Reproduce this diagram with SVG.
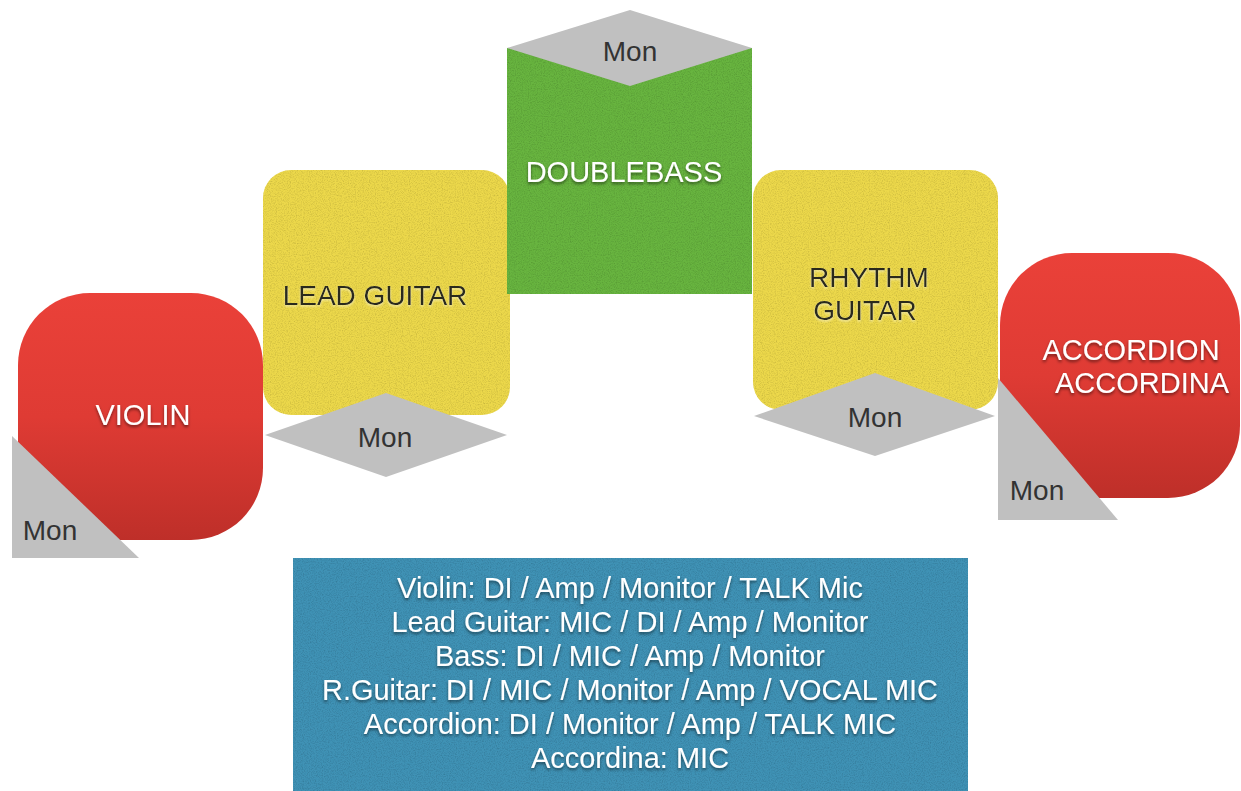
<svg xmlns="http://www.w3.org/2000/svg" width="1241" height="791" viewBox="0 0 1241 791">
<defs>
<linearGradient id="red" x1="0" y1="0" x2="0" y2="1">
<stop offset="0" stop-color="#ea4139"/>
<stop offset="0.5" stop-color="#df3b34"/>
<stop offset="1" stop-color="#be2f29"/>
</linearGradient>
<filter id="grain" x="0" y="0" width="100%" height="100%">
<feTurbulence type="fractalNoise" baseFrequency="0.85" numOctaves="2" seed="5" result="noise"/>
<feColorMatrix in="noise" type="matrix" values="0 0 0 0 0  0 0 0 0 0  0 0 0 0 0  0 0 0 0.6 -0.25" result="dark"/>
<feComposite in="dark" in2="SourceGraphic" operator="in" result="d2"/>
<feMerge><feMergeNode in="SourceGraphic"/><feMergeNode in="d2"/></feMerge>
</filter>
<filter id="shadow" x="-10%" y="-30%" width="120%" height="160%">
<feDropShadow dx="0" dy="2" stdDeviation="1.5" flood-color="#000" flood-opacity="0.5"/>
</filter>
<filter id="lightshadow" x="-10%" y="-30%" width="120%" height="160%">
<feDropShadow dx="0" dy="1.5" stdDeviation="1" flood-color="#fff" flood-opacity="0.5"/>
</filter>
</defs>
<style>
text { font-family: "Liberation Sans", Arial, sans-serif; text-anchor: middle; }
.white { fill: #ffffff; font-size: 29px; filter: url(#shadow); }
.dark { fill: #2b2a1c; font-size: 28px; filter: url(#lightshadow); }
.mon { fill: #333333; font-size: 28px; }
.grey { fill: #c0c0c0; }
.yellow { fill: #ecd84c; filter: url(#grain); }
.green { fill: #68b441; filter: url(#grain); }
.blue { fill: #3f92b5; filter: url(#grain); }
.red { fill: url(#red); }
</style>
<rect width="1241" height="791" fill="#ffffff"/>

<g id="violin">
<rect class="red" x="18" y="293" width="245" height="247" rx="72" ry="72"/>
<text class="white" x="143" y="425">VIOLIN</text>
<polygon class="grey" points="12,436 12,558 139,558"/>
<text class="mon" x="50" y="540">Mon</text>
</g>

<g id="lead-guitar">
<rect class="yellow" x="263" y="170" width="247" height="245" rx="28" ry="28"/>
<text class="dark" x="375" y="305">LEAD GUITAR</text>
<polygon class="grey" points="265,435 386,393 507,435 386,477"/>
<text class="mon" x="385" y="447">Mon</text>
</g>

<g id="doublebass">
<rect class="green" x="507" y="48" width="245" height="246"/>
<polygon class="grey" points="507,48 630,10 752,48 630,86"/>
<text class="mon" x="630" y="61">Mon</text>
<text class="white" x="624" y="182">DOUBLEBASS</text>
</g>

<g id="rhythm-guitar">
<rect class="yellow" x="753" y="170" width="245" height="240" rx="28" ry="28"/>
<text class="dark" x="869" y="287">RHYTHM</text>
<text class="dark" x="865" y="320">GUITAR</text>
<polygon class="grey" points="754,416 875,373 995,416 875,456"/>
<text class="mon" x="875" y="427">Mon</text>
</g>

<g id="accordion">
<rect class="red" x="1000" y="253" width="240" height="245" rx="72" ry="72"/>
<text class="white" x="1131" y="360">ACCORDION</text>
<text class="white" x="1142" y="393">ACCORDINA</text>
<polygon class="grey" points="998,378 998,520 1118,520"/>
<text class="mon" x="1037" y="500">Mon</text>
</g>

<g id="legend">
<rect class="blue" x="293" y="558" width="675" height="240"/>
<text class="white" x="630" y="598">Violin: DI / Amp / Monitor / TALK Mic</text>
<text class="white" x="630" y="632">Lead Guitar: MIC / DI / Amp / Monitor</text>
<text class="white" x="630" y="666">Bass: DI / MIC / Amp / Monitor</text>
<text class="white" x="630" y="700">R.Guitar: DI / MIC / Monitor / Amp / VOCAL MIC</text>
<text class="white" x="630" y="734">Accordion: DI / Monitor / Amp / TALK MIC</text>
<text class="white" x="630" y="768">Accordina: MIC</text>
</g>

<g id="connectors"/>
</svg>
